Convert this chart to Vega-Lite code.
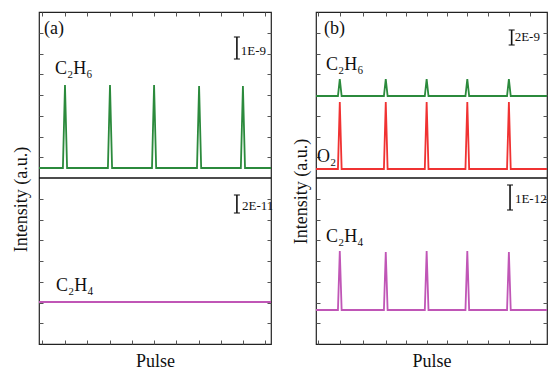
{
  "$schema": "https://vega.github.io/schema/vega-lite/v6.json",
  "padding": {"left": 11, "top": 10, "right": 17, "bottom": 4},
  "spacing": 15,
  "background": "white",
  "config": {
    "view": {"stroke": "#222222", "strokeWidth": 1.2},
    "axis": {"labels": false, "domain": false, "grid": false, "tickSize": -4, "tickColor": "#555555", "tickWidth": 1,
      "titleFont": "Liberation Serif, Times New Roman, serif", "titleFontSize": 18, "titleFontWeight": "normal", "titleColor": "#111111"},
    "text": {"font": "Liberation Serif, Times New Roman, serif", "color": "#111111"}
  },
  "datasets": {
    "lines": [
      {"p":"a","s":"C2H6","x":0,"y":176},{"p":"a","s":"C2H6","x":10.3,"y":176},{"p":"a","s":"C2H6","x":11.2,"y":259},{"p":"a","s":"C2H6","x":12.1,"y":176},
      {"p":"a","s":"C2H6","x":29.7,"y":176},{"p":"a","s":"C2H6","x":30.6,"y":259},{"p":"a","s":"C2H6","x":31.5,"y":176},
      {"p":"a","s":"C2H6","x":48.7,"y":176},{"p":"a","s":"C2H6","x":49.6,"y":259},{"p":"a","s":"C2H6","x":50.5,"y":176},
      {"p":"a","s":"C2H6","x":68.1,"y":176},{"p":"a","s":"C2H6","x":69.0,"y":258},{"p":"a","s":"C2H6","x":69.9,"y":176},
      {"p":"a","s":"C2H6","x":87.0,"y":176},{"p":"a","s":"C2H6","x":87.9,"y":258},{"p":"a","s":"C2H6","x":88.8,"y":176},
      {"p":"a","s":"C2H6","x":100,"y":176},
      {"p":"a","s":"C2H4","x":0,"y":42},{"p":"a","s":"C2H4","x":100,"y":42},
      {"p":"b","s":"C2H6","x":0,"y":248},{"p":"b","s":"C2H6","x":9.5,"y":248},{"p":"b","s":"C2H6","x":10.3,"y":265},{"p":"b","s":"C2H6","x":11.1,"y":248},
      {"p":"b","s":"C2H6","x":29.4,"y":248},{"p":"b","s":"C2H6","x":30.2,"y":265},{"p":"b","s":"C2H6","x":31.0,"y":248},
      {"p":"b","s":"C2H6","x":47.1,"y":248},{"p":"b","s":"C2H6","x":47.9,"y":265},{"p":"b","s":"C2H6","x":48.7,"y":248},
      {"p":"b","s":"C2H6","x":64.7,"y":248},{"p":"b","s":"C2H6","x":65.5,"y":265},{"p":"b","s":"C2H6","x":66.3,"y":248},
      {"p":"b","s":"C2H6","x":82.7,"y":248},{"p":"b","s":"C2H6","x":83.5,"y":265},{"p":"b","s":"C2H6","x":84.3,"y":248},
      {"p":"b","s":"C2H6","x":100,"y":248},
      {"p":"b","s":"O2","x":0,"y":175},{"p":"b","s":"O2","x":9.5,"y":175},{"p":"b","s":"O2","x":10.3,"y":242},{"p":"b","s":"O2","x":11.1,"y":175},
      {"p":"b","s":"O2","x":29.4,"y":175},{"p":"b","s":"O2","x":30.2,"y":242},{"p":"b","s":"O2","x":31.0,"y":175},
      {"p":"b","s":"O2","x":47.1,"y":175},{"p":"b","s":"O2","x":47.9,"y":242},{"p":"b","s":"O2","x":48.7,"y":175},
      {"p":"b","s":"O2","x":64.7,"y":175},{"p":"b","s":"O2","x":65.5,"y":242},{"p":"b","s":"O2","x":66.3,"y":175},
      {"p":"b","s":"O2","x":82.7,"y":175},{"p":"b","s":"O2","x":83.5,"y":242},{"p":"b","s":"O2","x":84.3,"y":175},
      {"p":"b","s":"O2","x":100,"y":175},
      {"p":"b","s":"C2H4","x":0,"y":34},{"p":"b","s":"C2H4","x":9.5,"y":34},{"p":"b","s":"C2H4","x":10.3,"y":93},{"p":"b","s":"C2H4","x":11.1,"y":34},
      {"p":"b","s":"C2H4","x":29.4,"y":34},{"p":"b","s":"C2H4","x":30.2,"y":92},{"p":"b","s":"C2H4","x":31.0,"y":34},
      {"p":"b","s":"C2H4","x":47.1,"y":34},{"p":"b","s":"C2H4","x":47.9,"y":93},{"p":"b","s":"C2H4","x":48.7,"y":34},
      {"p":"b","s":"C2H4","x":64.7,"y":34},{"p":"b","s":"C2H4","x":65.5,"y":93},{"p":"b","s":"C2H4","x":66.3,"y":34},
      {"p":"b","s":"C2H4","x":82.7,"y":34},{"p":"b","s":"C2H4","x":83.5,"y":92},{"p":"b","s":"C2H4","x":84.3,"y":34},
      {"p":"b","s":"C2H4","x":100,"y":34}
    ],
    "labels": [
      {"p":"a","t":"(a)","x":2.2,"y":315},
      {"p":"a","t":"C₂H₆","x":6.9,"y":275},
      {"p":"a","t":"C₂H₄","x":7.3,"y":58},
      {"p":"b","t":"(b)","x":3.5,"y":315},
      {"p":"b","t":"C₂H₆","x":4.3,"y":279},
      {"p":"b","t":"O₂","x":0.4,"y":187},
      {"p":"b","t":"C₂H₄","x":4.3,"y":107}
    ],
    "bars": [
      {"p":"a","t":"1E-9","x":85.3,"y":307,"y2":285,"tx":87,"ty":293},
      {"p":"a","t":"2E-11","x":85.3,"y":149,"y2":131,"tx":87.5,"ty":138},
      {"p":"b","t":"2E-9","x":84.7,"y":314,"y2":299,"tx":86,"ty":307},
      {"p":"b","t":"1E-12","x":84.0,"y":159,"y2":134,"tx":86.1,"ty":145}
    ],
    "dividers": [
      {"p":"a","y":166},
      {"p":"b","y":166}
    ]
  },
  "hconcat": [
    {
      "width": 232,
      "height": 332,
      "resolve": {"axis": {"x": "independent", "y": "independent"}},
      "layer": [
        {
          "data": {"name": "lines"},
          "transform": [{"filter": "datum.p == 'a'"}],
          "mark": {"type": "line", "strokeWidth": 1.8},
          "encoding": {
            "x": {"field": "x", "type": "quantitative", "scale": {"domain": [0, 100], "nice": false, "zero": false},
              "axis": {"orient": "bottom", "title": "Pulse", "titlePadding": 8, "values": [1.5, 11.2, 20.8, 30.4, 40, 49.6, 59.2, 68.8, 78.4, 88, 97.6]}},
            "y": {"field": "y", "type": "quantitative", "scale": {"domain": [0, 332], "nice": false},
              "axis": {"orient": "left", "title": "Intensity (a.u.)", "titlePadding": 8, "titleY": 187, "values": [21, 41, 62, 83, 104, 124, 145, 187, 207, 228, 249, 270, 290, 311]}},
            "color": {"field": "s", "type": "nominal", "legend": null,
              "scale": {"domain": ["C2H6", "O2", "C2H4"], "range": ["#2b8a3c", "#f03232", "#c056b6"]}}
          }
        },
        {
          "data": {"name": "dividers"},
          "transform": [{"filter": "datum.p == 'a'"}],
          "mark": {"type": "rule", "color": "#111111", "strokeWidth": 1.5},
          "encoding": {"y": {"field": "y", "type": "quantitative", "axis": null}}
        },
        {
          "data": {"name": "labels"},
          "transform": [{"filter": "datum.p == 'a'"}],
          "mark": {"type": "text", "align": "left", "baseline": "middle", "fontSize": 18},
          "encoding": {
            "x": {"field": "x", "type": "quantitative", "axis": {"orient": "top", "title": null, "values": [1.5, 11.2, 20.8, 30.4, 40, 49.6, 59.2, 68.8, 78.4, 88, 97.6]}},
            "y": {"field": "y", "type": "quantitative", "axis": {"orient": "right", "title": null, "values": [21, 41, 62, 83, 104, 124, 145, 187, 207, 228, 249, 270, 290, 311]}},
            "text": {"field": "t"}
          }
        },
        {
          "data": {"name": "bars"},
          "transform": [{"filter": "datum.p == 'a'"}],
          "mark": {"type": "rule", "color": "#111111", "strokeWidth": 1.6},
          "encoding": {
            "x": {"field": "x", "type": "quantitative", "axis": null},
            "y": {"field": "y", "type": "quantitative", "axis": null},
            "y2": {"field": "y2"}
          }
        },
        {
          "data": {"name": "bars"},
          "transform": [{"filter": "datum.p == 'a'"}],
          "mark": {"type": "tick", "orient": "horizontal", "color": "#111111", "size": 6, "thickness": 1.5},
          "encoding": {
            "x": {"field": "x", "type": "quantitative", "axis": null},
            "y": {"field": "y", "type": "quantitative", "axis": null}
          }
        },
        {
          "data": {"name": "bars"},
          "transform": [{"filter": "datum.p == 'a'"}],
          "mark": {"type": "tick", "orient": "horizontal", "color": "#111111", "size": 6, "thickness": 1.5},
          "encoding": {
            "x": {"field": "x", "type": "quantitative", "axis": null},
            "y": {"field": "y2", "type": "quantitative", "axis": null}
          }
        },
        {
          "data": {"name": "bars"},
          "transform": [{"filter": "datum.p == 'a'"}],
          "mark": {"type": "text", "align": "left", "baseline": "middle", "fontSize": 13},
          "encoding": {
            "x": {"field": "tx", "type": "quantitative", "axis": null},
            "y": {"field": "ty", "type": "quantitative", "axis": null},
            "text": {"field": "t"}
          }
        }
      ]
    },
    {
      "width": 231,
      "height": 332,
      "resolve": {"axis": {"x": "independent", "y": "independent"}},
      "layer": [
        {
          "data": {"name": "lines"},
          "transform": [{"filter": "datum.p == 'b'"}],
          "mark": {"type": "line", "strokeWidth": 1.8},
          "encoding": {
            "x": {"field": "x", "type": "quantitative", "scale": {"domain": [0, 100], "nice": false, "zero": false},
              "axis": {"orient": "bottom", "title": "Pulse", "titlePadding": 8, "values": [0.8, 10.3, 20.2, 30.2, 39, 47.9, 56.7, 65.5, 74.5, 83.5, 92.5]}},
            "y": {"field": "y", "type": "quantitative", "scale": {"domain": [0, 332], "nice": false},
              "axis": {"orient": "left", "title": "Intensity (a.u.)", "titlePadding": 5, "titleY": 179, "values": [21, 41, 62, 83, 104, 124, 145, 187, 207, 228, 249, 270, 290, 311]}},
            "color": {"field": "s", "type": "nominal", "legend": null,
              "scale": {"domain": ["C2H6", "O2", "C2H4"], "range": ["#2b8a3c", "#f03232", "#c056b6"]}}
          }
        },
        {
          "data": {"name": "dividers"},
          "transform": [{"filter": "datum.p == 'b'"}],
          "mark": {"type": "rule", "color": "#111111", "strokeWidth": 1.5},
          "encoding": {"y": {"field": "y", "type": "quantitative", "axis": null}}
        },
        {
          "data": {"name": "labels"},
          "transform": [{"filter": "datum.p == 'b'"}],
          "mark": {"type": "text", "align": "left", "baseline": "middle", "fontSize": 18},
          "encoding": {
            "x": {"field": "x", "type": "quantitative", "axis": {"orient": "top", "title": null, "values": [0.8, 10.3, 20.2, 30.2, 39, 47.9, 56.7, 65.5, 74.5, 83.5, 92.5]}},
            "y": {"field": "y", "type": "quantitative", "axis": {"orient": "right", "title": null, "values": [21, 41, 62, 83, 104, 124, 145, 187, 207, 228, 249, 270, 290, 311]}},
            "text": {"field": "t"}
          }
        },
        {
          "data": {"name": "bars"},
          "transform": [{"filter": "datum.p == 'b'"}],
          "mark": {"type": "rule", "color": "#111111", "strokeWidth": 1.6},
          "encoding": {
            "x": {"field": "x", "type": "quantitative", "axis": null},
            "y": {"field": "y", "type": "quantitative", "axis": null},
            "y2": {"field": "y2"}
          }
        },
        {
          "data": {"name": "bars"},
          "transform": [{"filter": "datum.p == 'b'"}],
          "mark": {"type": "tick", "orient": "horizontal", "color": "#111111", "size": 6, "thickness": 1.5},
          "encoding": {
            "x": {"field": "x", "type": "quantitative", "axis": null},
            "y": {"field": "y", "type": "quantitative", "axis": null}
          }
        },
        {
          "data": {"name": "bars"},
          "transform": [{"filter": "datum.p == 'b'"}],
          "mark": {"type": "tick", "orient": "horizontal", "color": "#111111", "size": 6, "thickness": 1.5},
          "encoding": {
            "x": {"field": "x", "type": "quantitative", "axis": null},
            "y": {"field": "y2", "type": "quantitative", "axis": null}
          }
        },
        {
          "data": {"name": "bars"},
          "transform": [{"filter": "datum.p == 'b'"}],
          "mark": {"type": "text", "align": "left", "baseline": "middle", "fontSize": 13},
          "encoding": {
            "x": {"field": "tx", "type": "quantitative", "axis": null},
            "y": {"field": "ty", "type": "quantitative", "axis": null},
            "text": {"field": "t"}
          }
        }
      ]
    }
  ]
}
